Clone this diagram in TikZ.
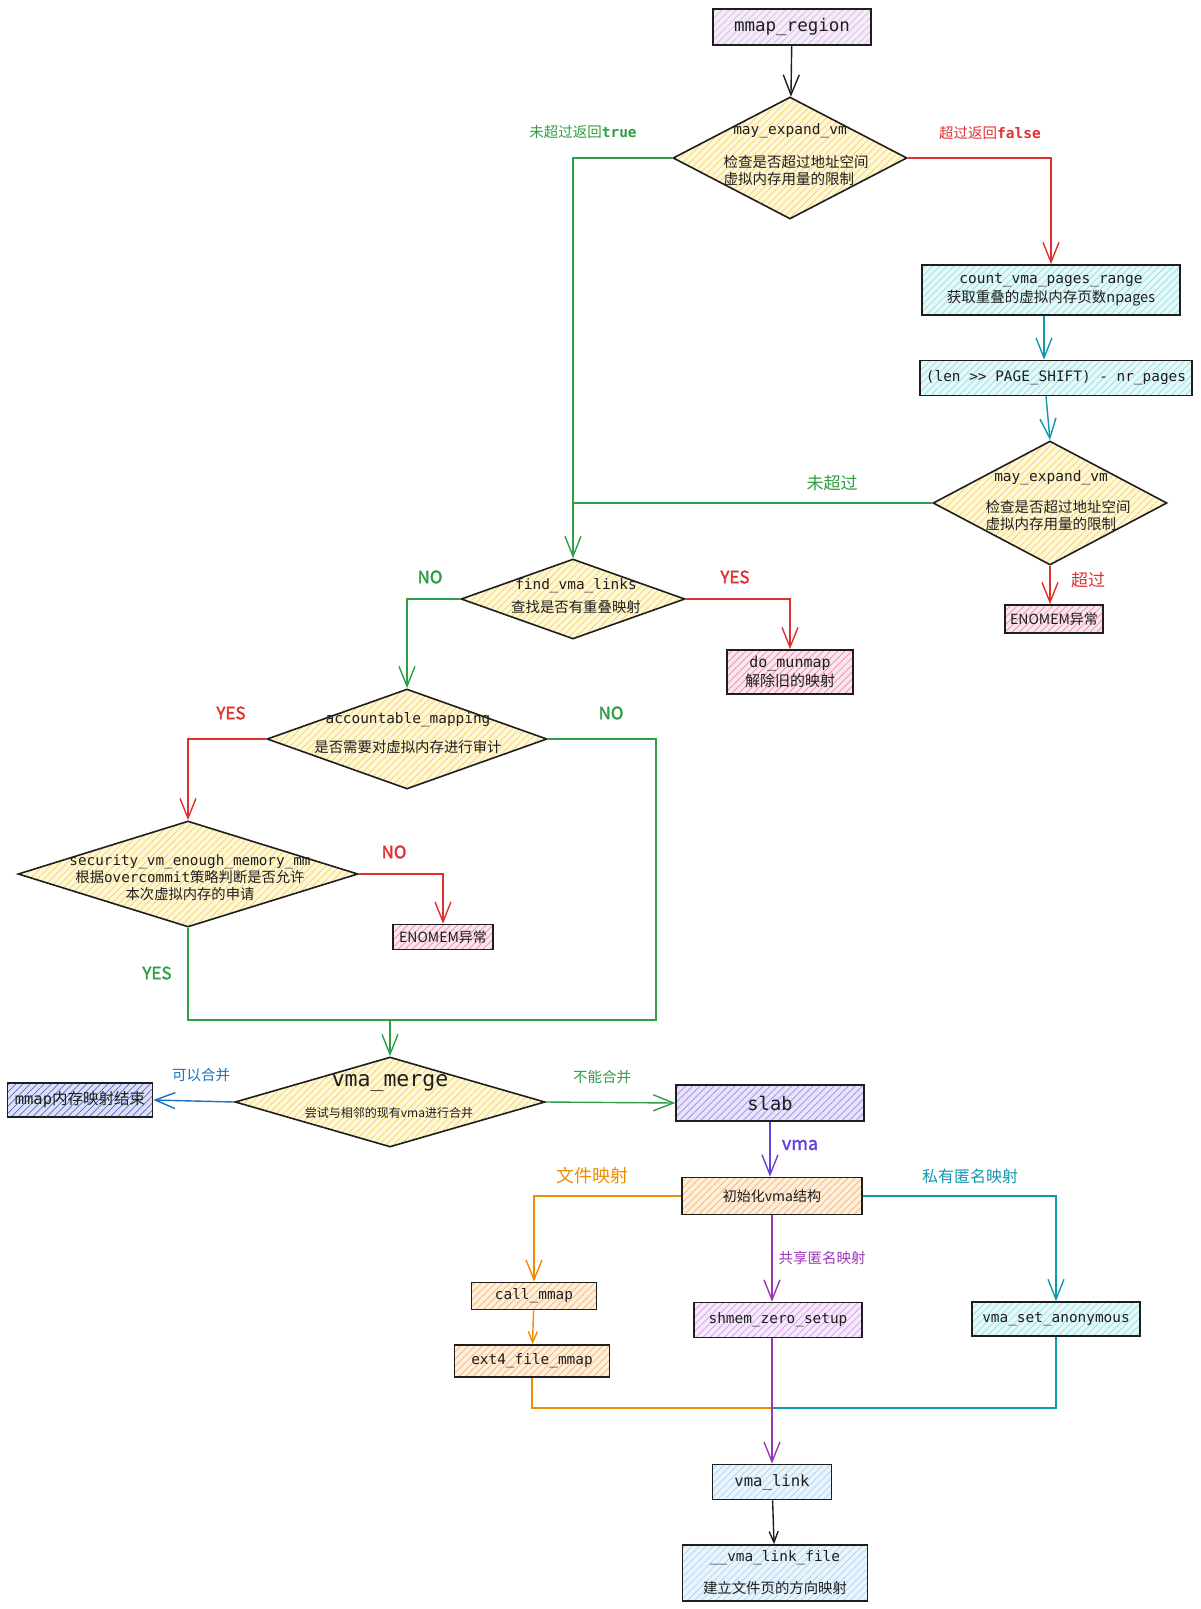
\documentclass[tikz,border=0pt]{standalone}
\usepackage{fontspec}
\setmainfont{Noto Sans CJK SC}[AutoFakeBold=2]
\setmonofont{DejaVu Sans Mono}
\usepackage{tikz}
\usetikzlibrary{calc, shapes.geometric, arrows.meta, patterns.meta}

\definecolor{ink}{HTML}{1E1E1E}
\definecolor{cgreen}{HTML}{2F9E44}
\definecolor{cred}{HTML}{E03131}
\definecolor{cteal}{HTML}{1098AD}
\definecolor{cblue}{HTML}{1971C2}
\definecolor{corange}{HTML}{F08C00}
\definecolor{cpurple}{HTML}{9C36B5}
\definecolor{cindigo}{HTML}{6741D9}
\definecolor{lilacfill}{HTML}{F5ECF9}
\definecolor{lilachatch}{HTML}{D7B6E6}
\definecolor{ylwfill}{HTML}{FFF7D6}
\definecolor{ylwhatch}{HTML}{F0D36E}
\definecolor{cyanfill}{HTML}{E6F9F9}
\definecolor{cyanhatch}{HTML}{92DDE4}
\definecolor{bluefill}{HTML}{EAF4FC}
\definecolor{bluehatch}{HTML}{A8D5F0}
\definecolor{pinkfill}{HTML}{FCE6EE}
\definecolor{pinkhatch}{HTML}{E88AA6}
\definecolor{navyfill}{HTML}{DDE1F8}
\definecolor{navyhatch}{HTML}{5A66C6}
\definecolor{slabfill}{HTML}{E8E3FB}
\definecolor{slabhatch}{HTML}{9D8BE8}
\definecolor{orgfill}{HTML}{FFEEDA}
\definecolor{orghatch}{HTML}{F2B574}
\definecolor{vltfill}{HTML}{F7E9FC}
\definecolor{vlthatch}{HTML}{D49BEA}

\newcommand{\fsz}[2]{\fontsize{#1}{#2}\selectfont}

\tikzset{hatch/.style 2 args={preaction={fill=#1},
    preaction={pattern={Lines[angle=45,distance=5pt,line width=0.7pt]}, pattern color=#2}}}
\tikzstyle{procbox} = [rectangle, draw=ink, line width=1.6pt, inner sep=0pt, align=center]
\tikzstyle{decision} = [diamond, draw=ink, line width=1.6pt, inner sep=0pt, hatch={ylwfill}{ylwhatch}]
\tikzstyle{conn} = [line width=1.4pt]
\tikzstyle{arr} = [conn, -{Straight Barb[length=20pt, width=16pt]}]
\tikzstyle{arrsmall} = [conn, -{Straight Barb[length=11pt, width=9pt]}]
\tikzstyle{lbl} = [font=\fsz{14.5}{17}]
\tikzstyle{yesno} = [font=\fsz{17}{20}\bfseries]

\begin{document}
\begin{tikzpicture}[x=1pt, y=-1pt, every node/.style={font=\fsz{14.5}{17}, text=ink}]
    \useasboundingbox (0,0) rectangle (1200,1609);

    % first check
    \node[procbox, hatch={lilacfill}{lilachatch}, minimum width=158pt, minimum height=36pt, font=\fsz{17.5}{20}\ttfamily] at (792, 27) (mmap_region) {mmap\_region};
    \node[decision, minimum width=234pt, minimum height=122pt] at (790, 158) (may_expand_1) {};
    \node[font=\fsz{14.5}{17}\ttfamily] at (790, 131) (may_expand_1_name) {may\_expand\_vm};
    \node[align=left] at (796, 170) (may_expand_1_desc) {检查是否超过地址空间\\虚拟内存用量的限制};

    % page count branch
    \node[procbox, hatch={cyanfill}{cyanhatch}, minimum width=258pt, minimum height=50pt, font=\fsz{14.5}{19}] at (1051, 290) (count_pages) {\texttt{count\_vma\_pages\_range}\\获取重叠的虚拟内存页数npages};
    \node[procbox, hatch={cyanfill}{cyanhatch}, minimum width=272pt, minimum height=35pt, font=\fsz{14.4}{17}\ttfamily] at (1056, 378) (page_shift) {(len >{}> PAGE\_SHIFT) - nr\_pages};
    \node[decision, minimum width=234pt, minimum height=124pt] at (1050, 503) (may_expand_2) {};
    \node[font=\fsz{14.5}{17}\ttfamily] at (1051, 478) (may_expand_2_name) {may\_expand\_vm};
    \node[align=left] at (1058, 515) (may_expand_2_desc) {检查是否超过地址空间\\虚拟内存用量的限制};
    \node[procbox, hatch={pinkfill}{pinkhatch}, minimum width=98pt, minimum height=28pt, font=\fsz{14}{17}] at (1054, 619) (enomem_1) {ENOMEM异常};

    % overlap check
    \node[decision, minimum width=224pt, minimum height=80pt] at (573, 599) (find_links) {};
    \node[align=center, font=\fsz{14.4}{23}] at (576, 596) (find_links_txt) {\texttt{find\_vma\_links}\\查找是否有重叠映射};
    \node[procbox, hatch={pinkfill}{pinkhatch}, minimum width=126pt, minimum height=44pt, font=\fsz{15}{19}] at (790, 672) (do_munmap) {\texttt{do\_munmap}\\解除旧的映射};

    % accounting
    \node[decision, minimum width=280pt, minimum height=100pt] at (407, 739) (accountable) {};
    \node[align=center, font=\fsz{14.4}{29}] at (408, 733) (accountable_txt) {\texttt{accountable\_mapping}\\是否需要对虚拟内存进行审计};
    \node[decision, minimum width=340pt, minimum height=106pt] at (188, 874) (security) {};
    \node[align=center, font=\fsz{14.3}{17}] at (190, 878) (security_txt) {\texttt{security\_vm\_enough\_memory\_mm}\\根据\texttt{overcommit}策略判断是否允许\\本次虚拟内存的申请};
    \node[procbox, hatch={pinkfill}{pinkhatch}, minimum width=100pt, minimum height=25pt, font=\fsz{14}{17}] at (443, 937) (enomem_2) {ENOMEM异常};

    % merge
    \node[decision, minimum width=310pt, minimum height=90pt] at (390, 1102) (vma_merge) {};
    \node[font=\fsz{21.5}{24}\ttfamily] at (390, 1083) (vma_merge_name) {vma\_merge};
    \node[font=\fsz{12}{14}] at (389, 1113) (vma_merge_desc) {尝试与相邻的现有vma进行合并};
    \node[procbox, hatch={navyfill}{navyhatch}, minimum width=145pt, minimum height=34pt, font=\fsz{15.5}{18}] at (80, 1100) (mmap_end) {\texttt{mmap}内存映射结束};
    \node[procbox, hatch={slabfill}{slabhatch}, minimum width=188pt, minimum height=36pt, font=\fsz{18.7}{21}\ttfamily] at (770, 1103) (slab) {slab};

    % vma setup
    \node[procbox, hatch={orgfill}{orghatch}, minimum width=180pt, minimum height=37pt, font=\fsz{14}{17}] at (772, 1196) (init_vma) {初始化vma结构};
    \node[procbox, hatch={orgfill}{orghatch}, minimum width=125pt, minimum height=27pt, font=\fsz{14.4}{17}\ttfamily] at (534, 1296) (call_mmap) {call\_mmap};
    \node[procbox, hatch={orgfill}{orghatch}, minimum width=155pt, minimum height=32pt, font=\fsz{14.4}{17}\ttfamily] at (532, 1361) (ext4_mmap) {ext4\_file\_mmap};
    \node[procbox, hatch={vltfill}{vlthatch}, minimum width=168pt, minimum height=35pt, font=\fsz{14.4}{17}\ttfamily] at (778, 1320) (shmem_setup) {shmem\_zero\_setup};
    \node[procbox, hatch={cyanfill}{cyanhatch}, minimum width=168pt, minimum height=34pt, font=\fsz{14.4}{17}\ttfamily] at (1056, 1319) (vma_set_anon) {vma\_set\_anonymous};
    \node[procbox, hatch={bluefill}{bluehatch}, minimum width=119pt, minimum height=35pt, font=\fsz{15.6}{18}\ttfamily] at (772, 1482) (vma_link) {vma\_link};
    \node[procbox, hatch={bluefill}{bluehatch}, minimum width=185pt, minimum height=56pt, font=\fsz{14.4}{32}] at (775, 1573) (vma_link_file) {\texttt{\_\_vma\_link\_file}\\建立文件页的方向映射};

    % labels
    \node[lbl, text=cgreen] at (583, 132) (lbl_true) {未超过返回\texttt{\bfseries true}};
    \node[lbl, text=cred] at (990, 133) (lbl_false) {超过返回\texttt{\bfseries false}};
    \node[font=\fsz{17}{20}, text=cgreen] at (832, 483) (lbl_not_over) {未超过};
    \node[font=\fsz{17}{20}, text=cred] at (1088, 580) (lbl_over) {超过};
    \node[yesno, text=cgreen] at (430, 577) (lbl_find_no) {NO};
    \node[yesno, text=cred] at (735, 577) (lbl_find_yes) {YES};
    \node[yesno, text=cred] at (231, 713) (lbl_acct_yes) {YES};
    \node[yesno, text=cgreen] at (611, 713) (lbl_acct_no) {NO};
    \node[yesno, text=cred] at (394, 852) (lbl_sec_no) {NO};
    \node[yesno, text=cgreen] at (157, 973) (lbl_sec_yes) {YES};
    \node[lbl, text=cblue] at (201, 1075) (lbl_can_merge) {可以合并};
    \node[lbl, text=cgreen] at (602, 1077) (lbl_cannot_merge) {不能合并};
    \node[font=\fsz{18}{20}\bfseries, text=cindigo] at (800, 1145) (lbl_vma) {vma};
    \node[font=\fsz{18}{20}, text=corange] at (592, 1176) (lbl_file) {文件映射};
    \node[lbl, text=cpurple] at (822, 1258) (lbl_shared) {共享匿名映射};
    \node[font=\fsz{16}{19}, text=cteal] at (970, 1176) (lbl_private) {私有匿名映射};

    \coordinate (bus_top) at (656, 1020);
    \coordinate (bus_bottom) at (772, 1408);

    \draw[arr, ink] (mmap_region) -- (may_expand_1);
    \draw[arr, cgreen] (may_expand_1.west) -| (find_links.north);
    \draw[arr, cred] (may_expand_1.east) -| (count_pages.north);
    \draw[arr, cteal] (count_pages.south -| 1044, 0) -- (page_shift.north -| 1044, 0);
    \draw[arr, cteal] (page_shift.south -| 1046, 0) -- (may_expand_2.north);
    \draw[conn, cgreen] (may_expand_2.west) -- (may_expand_2.west -| find_links.north);
    \draw[arr, cred] (may_expand_2.south) -- (may_expand_2.south |- enomem_1.north);

    \draw[arr, cred] (find_links.east) -| (do_munmap.north);
    \draw[arr, cgreen] (find_links.west) -| (accountable.north);
    \draw[arr, cred] (accountable.west) -| (security.north);
    \draw[arr, cred] (security.east) -| (enomem_2.north);
    \draw[conn, cgreen] (accountable.east) -| (bus_top) -- (bus_top -| security.south) -- (security.south);
    \draw[arr, cgreen] (bus_top -| vma_merge.north) -- (vma_merge.north);

    \draw[arr, cblue] (vma_merge.west) -- (mmap_end.east);
    \draw[arr, cgreen] (vma_merge.east) -- (slab.west);
    \draw[arr, cindigo] (slab.south) -- (slab.south |- init_vma.north);
    \draw[arr, corange] (init_vma.west) -| (call_mmap.north);
    \draw[arr, cpurple] (init_vma.south) -- (init_vma.south |- shmem_setup.north);
    \draw[arr, cteal] (init_vma.east) -| (vma_set_anon.north);
    \draw[arrsmall, corange] (call_mmap) -- (ext4_mmap);
    \draw[conn, corange] (ext4_mmap.south) |- (bus_bottom);
    \draw[conn, cteal] (vma_set_anon.south) |- (bus_bottom);
    \draw[arr, cpurple] (vma_link.north |- shmem_setup.south) -- (vma_link.north);
    \draw[arrsmall, ink] (vma_link) -- (vma_link_file);
\end{tikzpicture}
\end{document}
